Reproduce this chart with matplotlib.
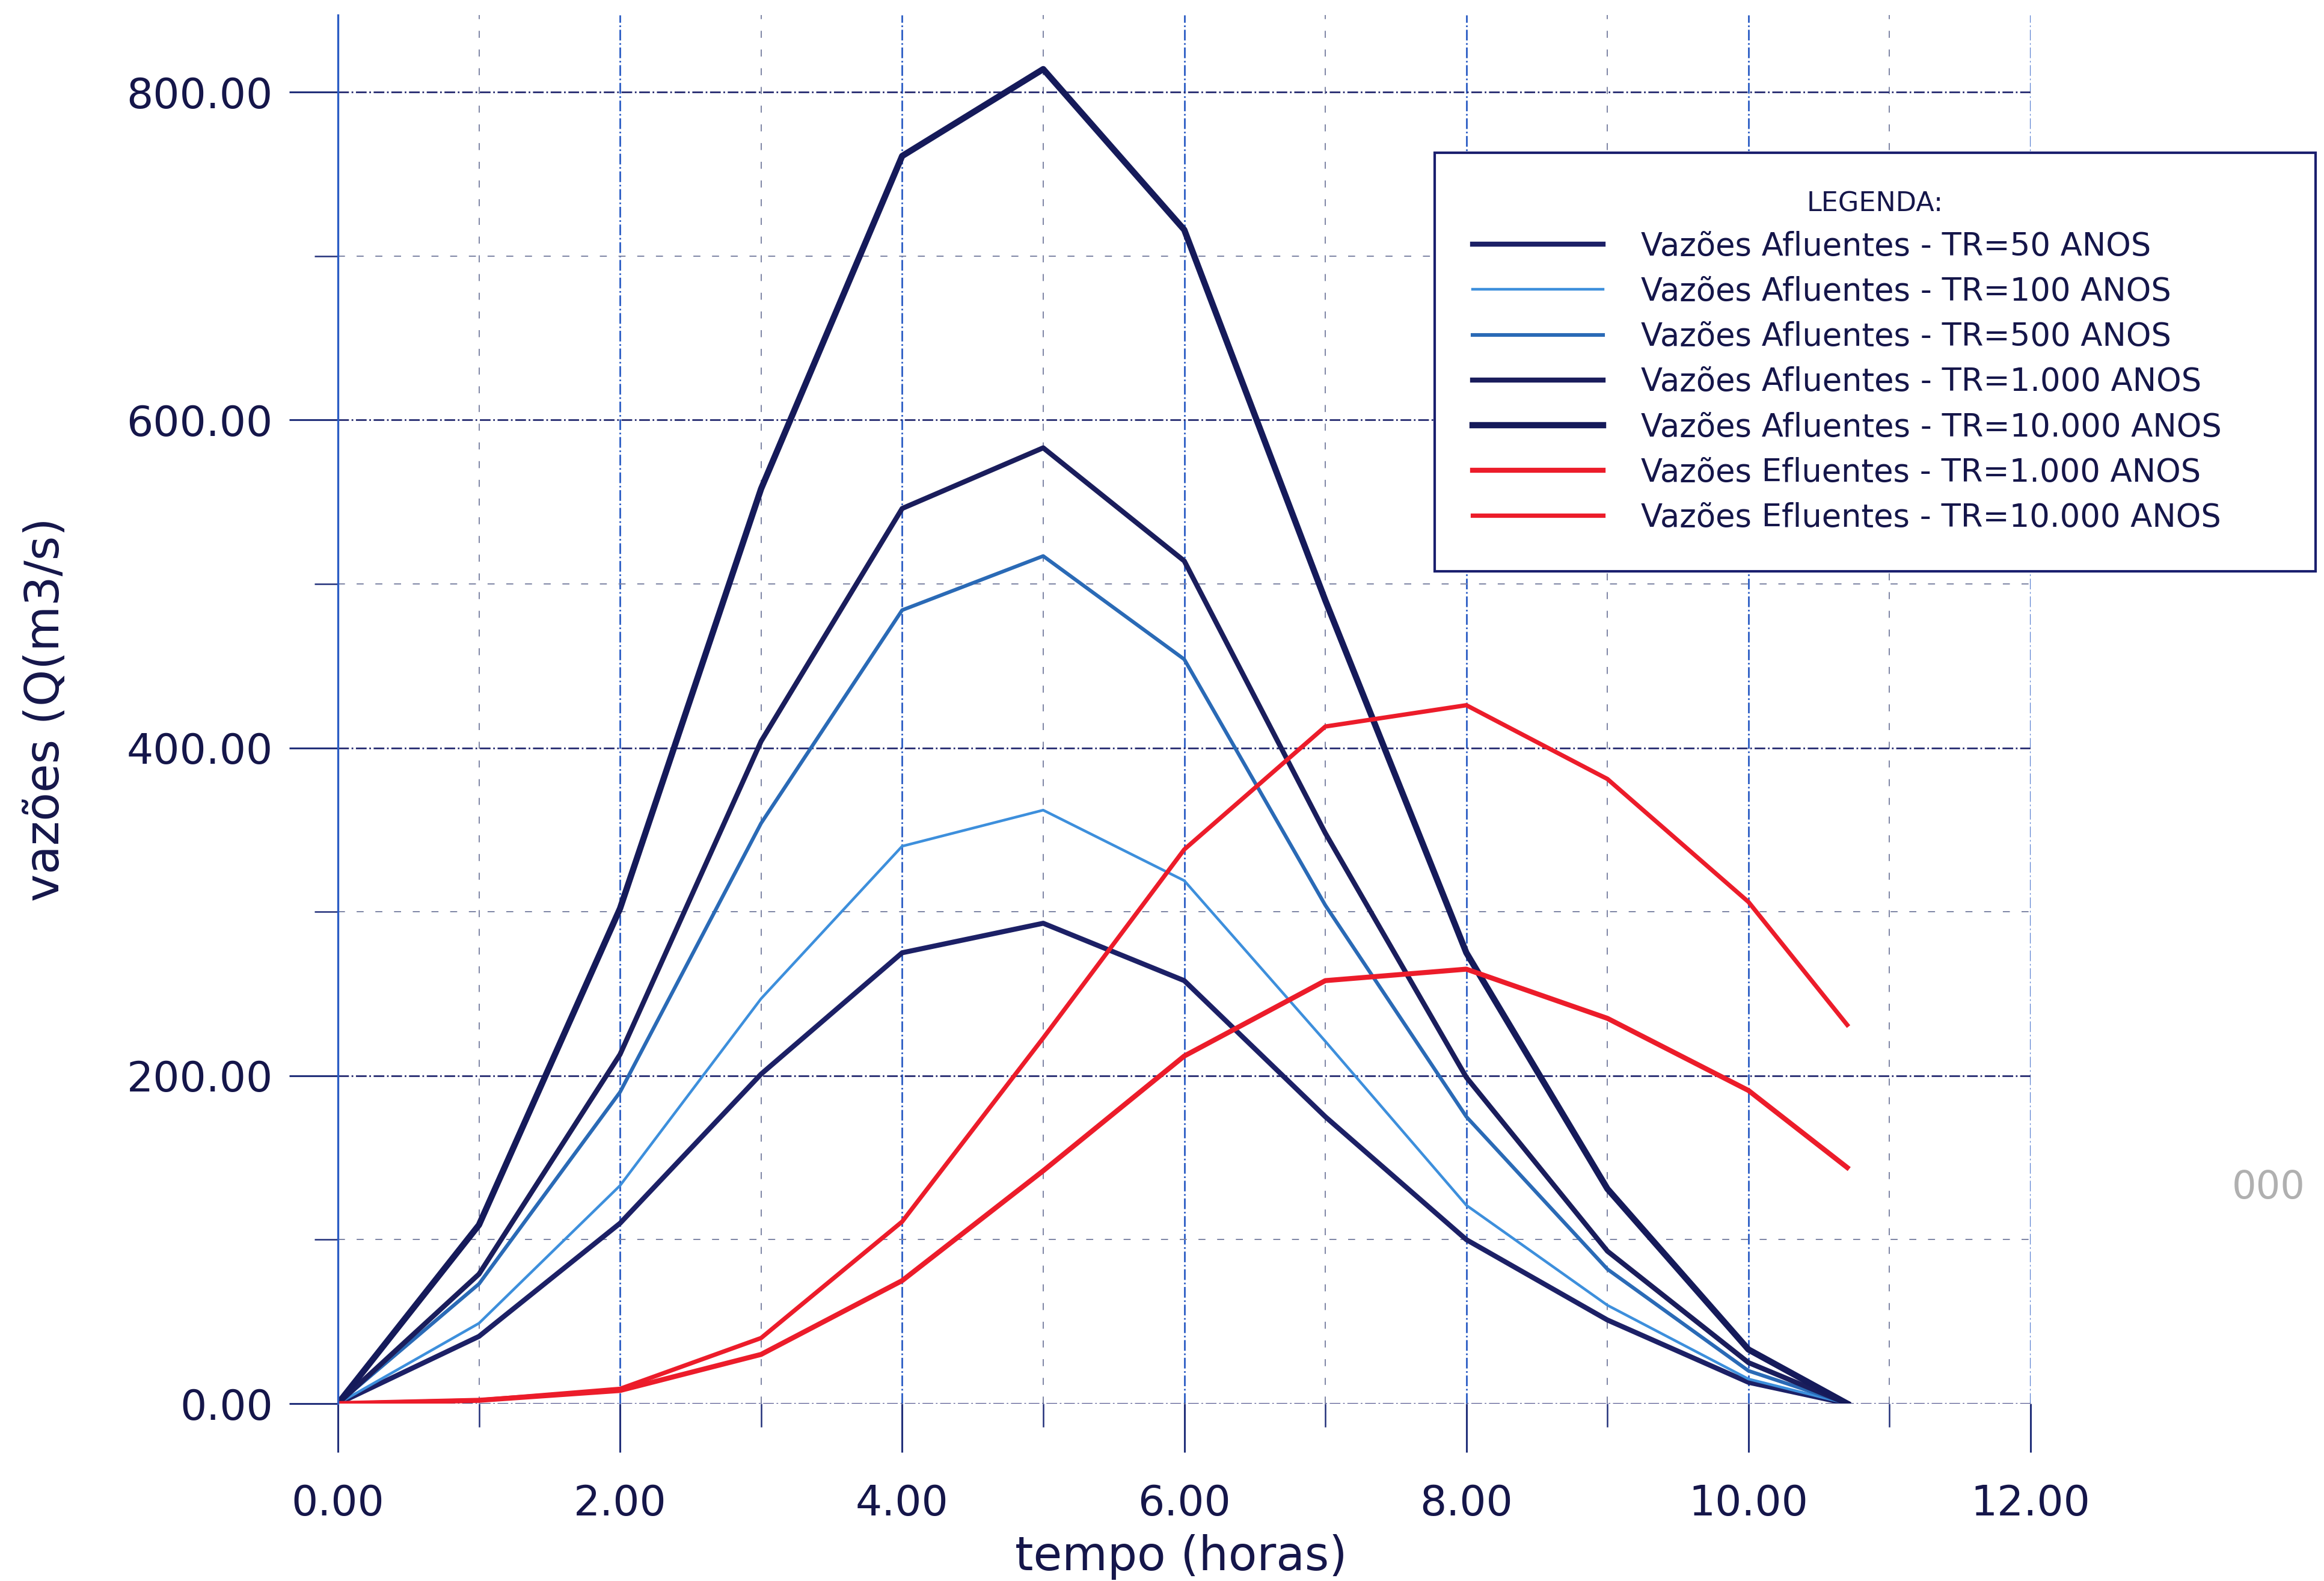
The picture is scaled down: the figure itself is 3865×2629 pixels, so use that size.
import matplotlib
matplotlib.use('Agg')
import matplotlib.pyplot as plt
from matplotlib.ticker import MultipleLocator, FormatStrFormatter

# tempo (horas)
tempo = [0, 1, 2, 3, 4, 5, 6, 7, 8, 9, 10, 10.7]

# vazoes afluentes (m3/s)
afl_50 = [0, 41, 110, 201, 275, 293, 258, 175, 100, 51, 13, 0]
afl_100 = [0, 49, 133, 247, 340, 362, 319, 221, 121, 60, 15, 0]
afl_500 = [0, 73, 190, 354, 484, 517, 454, 304, 175, 82, 20, 0]
afl_1000 = [0, 79, 213, 404, 546, 583, 514, 348, 199, 93, 25, 0]
afl_10000 = [0, 109, 302, 558, 761, 814, 716, 490, 275, 131, 33, 0]

# vazoes efluentes (m3/s)
efl_1000 = [0, 2, 8, 30, 75, 142, 212, 258, 265, 235, 191, 144]
efl_10000 = [0, 2, 9, 40, 111, 223, 338, 413, 426, 381, 306, 231]

rotulos = ['Vazões Afluentes - TR=50 ANOS',
           'Vazões Afluentes - TR=100 ANOS',
           'Vazões Afluentes - TR=500 ANOS',
           'Vazões Afluentes - TR=1.000 ANOS',
           'Vazões Afluentes - TR=10.000 ANOS',
           'Vazões Efluentes - TR=1.000 ANOS',
           'Vazões Efluentes - TR=10.000 ANOS']

texto = '#15164a'
azul = '#2a5cc4'

W, H = 3865, 2629
fig = plt.figure(figsize=(W / 100, H / 100), dpi=100)
ax = fig.add_axes([562 / W, 1 - 2334 / H, (3377 - 562) / W, (2334 - 25) / H])

ax.plot(tempo, afl_50, color='#1c2066', lw=6.0, label=rotulos[0])
ax.plot(tempo, afl_100, color='#3d8fdc', lw=3.2, label=rotulos[1])
ax.plot(tempo, afl_500, color='#2a6ab6', lw=4.4, label=rotulos[2])
ax.plot(tempo, afl_1000, color='#1a1d5c', lw=6.0, label=rotulos[3])
ax.plot(tempo, afl_10000, color='#151a5a', lw=7.5, label=rotulos[4])
ax.plot(tempo, efl_1000, color='#ec1c2a', lw=6.0, label=rotulos[5])
ax.plot(tempo, efl_10000, color='#ec1c2a', lw=5.2, label=rotulos[6])

ax.set_xlim(0, 12)
ax.set_ylim(0, 847)

ax.xaxis.set_major_locator(MultipleLocator(2))
ax.xaxis.set_minor_locator(MultipleLocator(1))
ax.yaxis.set_major_locator(MultipleLocator(200))
ax.yaxis.set_minor_locator(MultipleLocator(100))
ax.xaxis.set_major_formatter(FormatStrFormatter('%.2f'))
ax.yaxis.set_major_formatter(FormatStrFormatter('%.2f'))

# grade: principal traco-ponto, secundaria pontilhada
ax.grid(which='major', axis='x', color=azul, linestyle='-.', linewidth=2.0)
ax.grid(which='major', axis='y', color='#252a70', linestyle='-.', linewidth=2.0)
ax.grid(which='minor', color='#7d84a4', linestyle=(0, (6, 10)), linewidth=1.4)
ax.set_axisbelow(True)

for s in ['top', 'right', 'bottom']:
    ax.spines[s].set_visible(False)
ax.spines['left'].set_color(azul)
ax.spines['left'].set_linewidth(2.4)

ax.tick_params(which='major', length=58, width=2.2, color='#22307a', labelsize=50,
               labelcolor=texto)
ax.tick_params(axis='x', which='major', pad=38)
ax.tick_params(axis='y', which='major', pad=20)
ax.tick_params(which='minor', length=28, width=1.8, color='#22307a')

ax.set_xlabel('tempo (horas)', fontsize=56, color=texto)
ax.set_ylabel('vazões (Q(m3/s)', fontsize=56, color=texto)
ax.xaxis.set_label_coords(0.498, -0.094)
ax.yaxis.set_label_coords(-0.159, 0.5)

leg = ax.legend(loc='upper left',
                bbox_to_anchor=(2386 / W, 1 - 937 / H, (3851 - 2386) / W, (937 - 254) / H),
                bbox_transform=fig.transFigure, mode='expand', borderaxespad=0,
                fontsize=38, title='LEGENDA:', title_fontsize=32,
                handlelength=4.1, handletextpad=1.2, labelspacing=0.44,
                borderpad=1.2, frameon=True, fancybox=False,
                edgecolor='#1a1f6e', framealpha=1, labelcolor=texto)
leg.get_frame().set_linewidth(3)
leg.get_title().set_color(texto)

# carimbo da pagina (parcialmente cortado)
fig.text(3712 / W, 1 - 1975 / H, '000', fontsize=46, color='#b0b0b0', va='center')

plt.savefig('out.png', dpi=100)
